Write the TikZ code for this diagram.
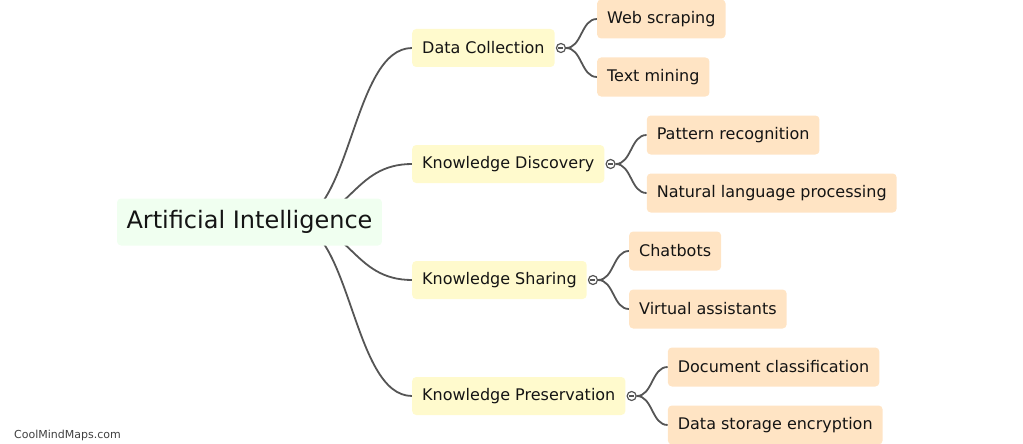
\documentclass[tikz,border=0pt]{standalone}
\usepackage{fontspec}
\setmainfont{DejaVu Sans}
\usetikzlibrary{positioning, backgrounds}
\definecolor{rootfill}{RGB}{240,255,240}
\definecolor{topicfill}{RGB}{255,250,205}
\definecolor{leaffill}{RGB}{255,228,196}
\definecolor{linkgray}{RGB}{85,85,85}
\definecolor{inkgray}{RGB}{20,20,20}
\begin{document}
\begin{tikzpicture}[x=1pt, y=-1pt,
      root/.style={fill=rootfill, rounded corners=4pt, minimum height=47pt, inner xsep=9.5pt, text=inkgray, font=\fontsize{24}{29}\selectfont},
      topic/.style={fill=topicfill, rounded corners=4pt, minimum height=38pt, inner xsep=10pt, anchor=west, text=inkgray, font=\fontsize{16}{19}\selectfont},
      leaf/.style={fill=leaffill, rounded corners=4pt, minimum height=39pt, inner xsep=10pt, anchor=west, text=inkgray, font=\fontsize{16}{19}\selectfont},
      fold/.style={circle, draw=linkgray, fill=white, line width=1.2pt, minimum size=9pt, inner sep=0pt,
        path picture={\draw[linkgray, line width=1.2pt] ([xshift=2pt]path picture bounding box.west) -- ([xshift=-2pt]path picture bounding box.east);}},
      link/.style={draw=linkgray, line width=1.8pt}
    ]
      \useasboundingbox (0,0) rectangle (1023,444);
      \node[root] (ai) at (249.5,222) {Artificial Intelligence};
      \coordinate (hub) at ([xshift=42pt]ai.center);

      \node[topic] (collect)  at (412,48)  {Data Collection};
      \node[topic] (discover) at (412,164) {Knowledge Discovery};
      \node[topic] (share)    at (412,280) {Knowledge Sharing};
      \node[topic] (preserve) at (412,396) {Knowledge Preservation};

      \node[fold, right=1pt of collect]  (collect-f) {};
      \node[fold, right=1pt of discover] (discover-f) {};
      \node[fold, right=1pt of share]    (share-f) {};
      \node[fold, right=1pt of preserve] (preserve-f) {};

      \node[leaf] (scrape)   at ([shift={(36,-29)}]collect-f.center)  {Web scraping};
      \node[leaf] (mining)   at ([shift={(36,29)}]collect-f.center)   {Text mining};
      \node[leaf] (pattern)  at ([shift={(36,-29)}]discover-f.center) {Pattern recognition};
      \node[leaf] (nlp)      at ([shift={(36,29)}]discover-f.center)  {Natural language processing};
      \node[leaf] (chatbots) at ([shift={(36,-29)}]share-f.center)    {Chatbots};
      \node[leaf] (assist)   at ([shift={(36,29)}]share-f.center)     {Virtual assistants};
      \node[leaf] (classify) at ([shift={(36,-29)}]preserve-f.center) {Document classification};
      \node[leaf] (encrypt)  at ([shift={(36,29)}]preserve-f.center)  {Data storage encryption};

      \node[anchor=west, inner sep=0pt, text=black!75, font=\fontsize{11}{13}\selectfont] (brand) at (14,435) {CoolMindMaps.com};

      % links sit behind the boxes
      \begin{scope}[on background layer]
        \draw[link] (hub) .. controls +(60,0) and +(-60,0) .. (collect.west);
        \draw[link] (hub) .. controls +(60,0) and +(-60,0) .. (discover.west);
        \draw[link] (hub) .. controls +(60,0) and +(-60,0) .. (share.west);
        \draw[link] (hub) .. controls +(60,0) and +(-60,0) .. (preserve.west);
        \draw[link] (collect-f.east) .. controls +(16,0) and +(-16,0) .. (scrape.west);
        \draw[link] (collect-f.east) .. controls +(16,0) and +(-16,0) .. (mining.west);
        \draw[link] (discover-f.east) .. controls +(16,0) and +(-16,0) .. (pattern.west);
        \draw[link] (discover-f.east) .. controls +(16,0) and +(-16,0) .. (nlp.west);
        \draw[link] (share-f.east) .. controls +(16,0) and +(-16,0) .. (chatbots.west);
        \draw[link] (share-f.east) .. controls +(16,0) and +(-16,0) .. (assist.west);
        \draw[link] (preserve-f.east) .. controls +(16,0) and +(-16,0) .. (classify.west);
        \draw[link] (preserve-f.east) .. controls +(16,0) and +(-16,0) .. (encrypt.west);
      \end{scope}
    \end{tikzpicture}
\end{document}
